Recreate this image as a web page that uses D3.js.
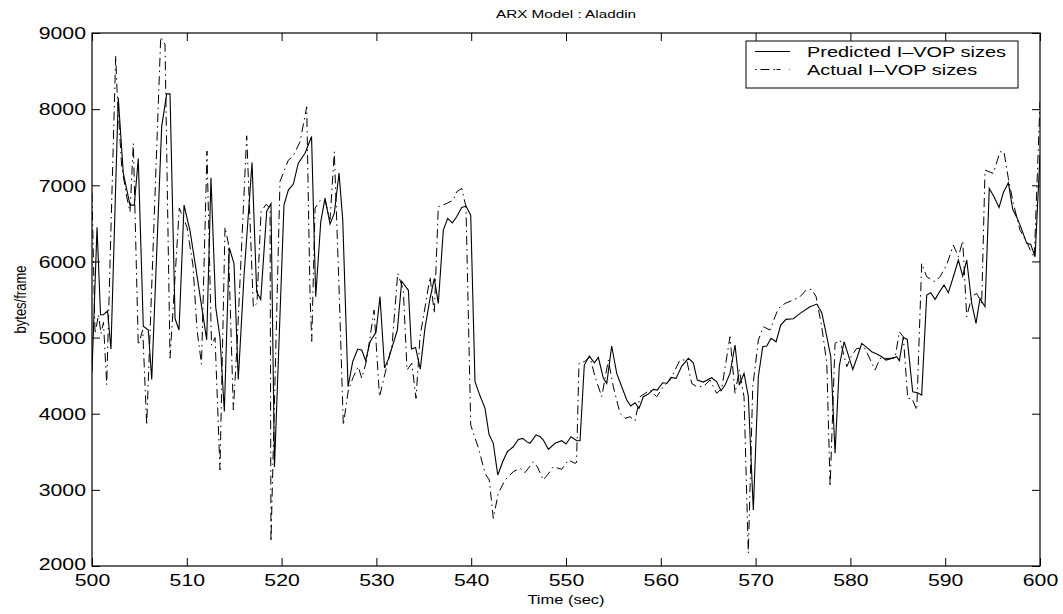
<!DOCTYPE html>
<html>
<head>
<meta charset="utf-8">
<script src="https://cdn.jsdelivr.net/npm/d3@7"></script>
<style>
  html, body { margin: 0; padding: 0; background: #fff; }
  svg { display: block; }
  text { font-family: "Liberation Sans", Arial, Helvetica, sans-serif; fill: #000; }
</style>
</head>
<body>
<svg id="chart" width="1063" height="614"></svg>
<script>
// ---------------- data ----------------
const titleText = "ARX Model : Aladdin";
const xLabel = "Time (sec)";
const yLabel = "bytes/frame";
const seriesNames = ["Predicted I\u2013VOP sizes", "Actual I\u2013VOP sizes"];
const xTicks = [500, 510, 520, 530, 540, 550, 560, 570, 580, 590, 600];
const yTicks = [2000, 3000, 4000, 5000, 6000, 7000, 8000, 9000];

const predictedTime = [500.00,500.53,500.90,501.21,501.64,502.00,502.77,503.30,504.01,504.46,504.88,505.41,505.94,506.30,507.35,507.88,508.23,508.76,509.18,509.71,510.34,510.97,512.10,512.55,513.05,513.50,513.96,514.48,514.98,515.43,516.03,516.88,517.37,517.80,518.43,518.88,519.25,520.25,520.71,521.24,521.76,522.47,523.16,523.60,524.13,524.58,525.11,525.56,526.06,526.45,527.01,527.50,528.03,528.45,528.87,529.33,529.96,530.38,530.86,531.28,532.21,532.67,533.20,533.37,533.70,534.13,534.63,535.13,535.66,536.11,536.53,537.06,537.52,538.01,538.47,539.00,539.45,539.95,540.40,540.93,541.46,541.88,542.33,542.80,543.32,543.81,544.44,544.97,545.43,545.89,546.20,546.84,547.26,547.61,548.14,548.84,549.55,550.00,550.53,551.13,551.48,551.93,552.46,552.99,553.41,553.94,554.30,554.82,555.35,555.88,556.41,556.83,557.28,557.70,558.16,558.68,559.21,559.63,560.20,560.66,561.08,561.61,562.21,562.91,563.43,563.85,564.49,565.37,565.90,566.35,566.78,567.30,567.83,568.28,568.78,569.23,569.76,570.29,570.75,571.18,571.63,572.16,572.65,573.21,573.98,574.69,575.74,576.45,576.98,577.51,577.93,578.38,578.83,579.33,579.78,580.25,580.73,581.20,581.72,582.25,582.78,583.31,583.76,584.36,584.89,585.16,585.58,586.00,586.57,587.06,587.52,588.05,588.47,588.93,589.40,589.88,590.33,590.86,591.39,591.85,592.27,592.80,593.25,593.67,594.20,594.65,595.15,595.68,596.13,596.66,597.12,597.61,598.07,598.60,599.02,599.48,600.00];
const predictedBytes = [4550,6450,5300,5300,5350,4850,8150,7160,6740,6740,7350,5150,5100,4450,7770,8200,8200,5250,5100,6740,6400,5900,4970,7100,5400,5000,4030,6180,5970,4450,5800,7300,5600,5500,6660,6760,3300,6740,6937,7016,7291,7420,7640,5537,6520,6832,6490,6635,7160,6543,4355,4683,4849,4836,4696,4945,5070,5537,4600,4720,5099,5740,5650,5624,4850,4870,4585,5130,5515,5777,5449,6412,6565,6507,6586,6710,6727,6608,4420,4235,4070,3730,3611,3195,3369,3501,3566,3663,3676,3630,3611,3720,3700,3654,3532,3611,3645,3602,3698,3645,3645,4639,4757,4669,4740,4464,4398,4889,4530,4355,4180,4101,4144,4070,4223,4258,4320,4311,4407,4400,4477,4464,4626,4727,4669,4442,4416,4473,4420,4302,4377,4530,4902,4377,4530,4232,2735,4486,4880,4889,4990,4945,5164,5239,5248,5318,5405,5440,5326,5011,4748,3480,4626,4945,4770,4582,4748,4924,4871,4814,4784,4748,4705,4727,4748,4696,5003,4976,4289,4276,4245,5558,5589,5502,5600,5690,5589,5799,6018,5808,6018,5449,5187,5515,5405,6958,6849,6710,6901,7032,6684,6565,6421,6237,6224,6061,7400];

const actualTime = [500.00,500.32,500.69,500.95,501.21,501.55,502.50,502.64,503.13,503.66,504.01,504.36,504.88,505.35,505.77,507.25,507.70,508.23,509.21,510.02,510.65,511.08,511.55,512.13,512.61,512.98,513.50,514.03,514.38,514.91,515.30,516.32,517.02,517.40,517.83,518.36,518.78,518.88,519.83,520.71,521.20,521.94,522.65,523.00,523.18,523.53,524.05,524.58,525.11,525.56,526.09,526.51,527.04,527.57,528.09,528.45,528.98,529.75,530.33,530.91,531.65,532.25,532.84,533.23,533.73,534.18,534.60,535.20,535.66,536.11,536.53,537.42,538.11,538.47,539.00,539.45,539.95,540.75,541.46,541.91,542.33,542.86,543.57,544.44,545.15,545.68,546.55,546.99,547.61,548.31,548.66,549.55,550.25,550.95,551.11,551.37,551.93,552.53,553.06,553.77,554.47,554.99,555.70,556.23,556.76,557.28,557.81,558.86,559.57,560.23,560.97,562.03,562.73,563.26,563.79,564.48,565.19,565.90,566.43,567.30,567.83,568.28,568.78,569.23,569.70,570.29,570.82,571.52,572.05,572.40,573.11,573.98,574.69,575.40,575.93,576.38,576.98,577.51,577.86,578.38,578.91,579.62,580.07,580.67,581.54,582.60,583.12,584.18,584.71,585.16,585.58,586.05,586.50,587.00,587.52,588.05,588.93,589.46,590.15,590.86,591.39,591.85,592.27,592.80,593.32,593.85,594.20,595.08,595.78,596.20,596.66,597.19,597.89,598.60,599.12,599.40,600.00];
const actualBytes = [6900,5050,5300,5050,5200,4380,8700,8250,7250,6850,6650,7550,4900,5100,3850,8950,8850,4730,6700,6450,5950,5100,4650,7450,4900,5000,3260,6450,6240,4050,4900,7650,5400,5450,6650,6750,6700,2320,7050,7330,7380,7570,8030,5550,4950,6700,6800,6800,6550,7440,5537,3850,4311,4486,4617,4468,4705,5361,4223,4530,4900,5843,5624,4573,4661,4201,5011,5449,5799,5318,6717,6762,6806,6915,6958,6717,3850,3556,3217,3129,2626,2955,3129,3239,3283,3226,3369,3300,3129,3239,3304,3270,3392,3348,3360,4661,4683,4748,4486,4223,4705,4355,4005,3939,3960,3908,4223,4311,4223,4350,4442,4705,4705,4398,4355,4355,4442,4267,4333,5011,4267,4573,4223,2167,4355,4967,5142,5099,5273,5383,5449,5493,5537,5633,5633,5537,5142,4661,3041,4924,4967,4617,4750,4858,4858,4573,4727,4727,4730,5076,5011,4201,4200,4048,5974,5799,5733,5800,5952,6215,6061,6271,5273,5537,5581,5449,7200,7156,7440,7440,7090,6762,6412,6258,6105,6050,8100];

(function () {
// ---------------- layout ----------------
const W = 1063, H = 614;
const mLeft = 92, mRight = 1040, mTop = 33, mBottom = 566;
const SX = 1.33;            // horizontal stretch of the original figure's text
const svg = d3.select("#chart");

const x = d3.scaleLinear().domain([500, 600]).range([mLeft, mRight]);
const y = d3.scaleLinear().domain([2000, 9000]).range([mBottom, mTop]);

svg.append("rect").attr("width", W).attr("height", H).attr("fill", "#fff");

svg.append("clipPath").attr("id", "clip")
  .append("rect").attr("x", mLeft).attr("y", mTop).attr("width", mRight - mLeft).attr("height", mBottom - mTop);

// ---------------- series ----------------
const nP = Math.min(predictedTime.length, predictedBytes.length);
const nA = Math.min(actualTime.length, actualBytes.length);
const pred = d3.range(nP).map(i => [predictedTime[i], predictedBytes[i]]);
const act = d3.range(nA).map(i => [actualTime[i], actualBytes[i]]);
const line = d3.line().x(d => x(d[0])).y(d => y(d[1]));

const plot = svg.append("g").attr("clip-path", "url(#clip)");
plot.append("path").datum(act).attr("d", line)
  .attr("fill", "none").attr("stroke", "#000").attr("stroke-width", 1)
  .attr("stroke-dasharray", "9,4,1.5,4");
plot.append("path").datum(pred).attr("d", line)
  .attr("fill", "none").attr("stroke", "#000").attr("stroke-width", 1.1);

// ---------------- axes ----------------
function styleAxis(g) {
  g.select(".domain").remove();
  g.selectAll(".tick line").attr("stroke", "#000").attr("stroke-width", 1);
}
const fmt = d3.format("d");

const gB = svg.append("g").attr("transform", `translate(0,${mBottom})`)
  .call(d3.axisBottom(x).tickValues(xTicks).tickSize(-8).tickSizeOuter(0).tickFormat(fmt));
styleAxis(gB);
gB.selectAll(".tick text").attr("y", 0).attr("dy", 0)
  .attr("transform", `translate(0,19.5) scale(${SX},1)`)
  .style("font-size", "16px");

const gT = svg.append("g").attr("transform", `translate(0,${mTop})`)
  .call(d3.axisTop(x).tickValues(xTicks).tickSize(-8).tickSizeOuter(0).tickFormat(""));
styleAxis(gT);

const gL = svg.append("g").attr("transform", `translate(${mLeft},0)`)
  .call(d3.axisLeft(y).tickValues(yTicks).tickSize(-8).tickSizeOuter(0).tickFormat(fmt));
styleAxis(gL);
gL.selectAll(".tick text").attr("x", 0).attr("dy", 0)
  .attr("transform", d => `translate(-6,${d === 2000 ? 3 : 5.8}) scale(${SX},1)`)
  .style("font-size", "16px");

const gR = svg.append("g").attr("transform", `translate(${mRight},0)`)
  .call(d3.axisRight(y).tickValues(yTicks).tickSize(-8).tickSizeOuter(0).tickFormat(""));
styleAxis(gR);

svg.append("rect").attr("x", mLeft).attr("y", mTop)
  .attr("width", mRight - mLeft).attr("height", mBottom - mTop)
  .attr("fill", "none").attr("stroke", "#000").attr("stroke-width", 1.2);

// ---------------- titles ----------------
svg.append("text").attr("text-anchor", "middle")
  .attr("transform", `translate(${(mLeft + mRight) / 2},18) scale(${SX},1)`)
  .style("font-size", "11.5px").text(titleText);

svg.append("text").attr("text-anchor", "middle")
  .attr("transform", `translate(${(mLeft + mRight) / 2},604) scale(${SX},1)`)
  .style("font-size", "12.4px").text(xLabel);

svg.append("text").attr("text-anchor", "middle")
  .attr("transform", `translate(26,${(mTop + mBottom) / 2}) scale(${SX},1) rotate(-90)`)
  .style("font-size", "13px").text(yLabel);

// ---------------- legend ----------------
const lg = svg.append("g");
lg.append("rect").attr("x", 746).attr("y", 41).attr("width", 272).attr("height", 47)
  .attr("fill", "#fff").attr("stroke", "#000").attr("stroke-width", 1);
const rowsY = [51.5, 69.5];
seriesNames.forEach((name, i) => {
  const l = lg.append("line").attr("x1", 755).attr("x2", 790)
    .attr("y1", rowsY[i]).attr("y2", rowsY[i])
    .attr("stroke", "#000").attr("stroke-width", 1);
  if (i === 1) l.attr("stroke-dasharray", "1.5,4,9,4,1.5");
  lg.append("text")
    .attr("transform", `translate(807,${rowsY[i] + 5.3}) scale(${SX},1)`)
    .style("font-size", "15px").text(name);
});
})();
</script>
</body>
</html>
